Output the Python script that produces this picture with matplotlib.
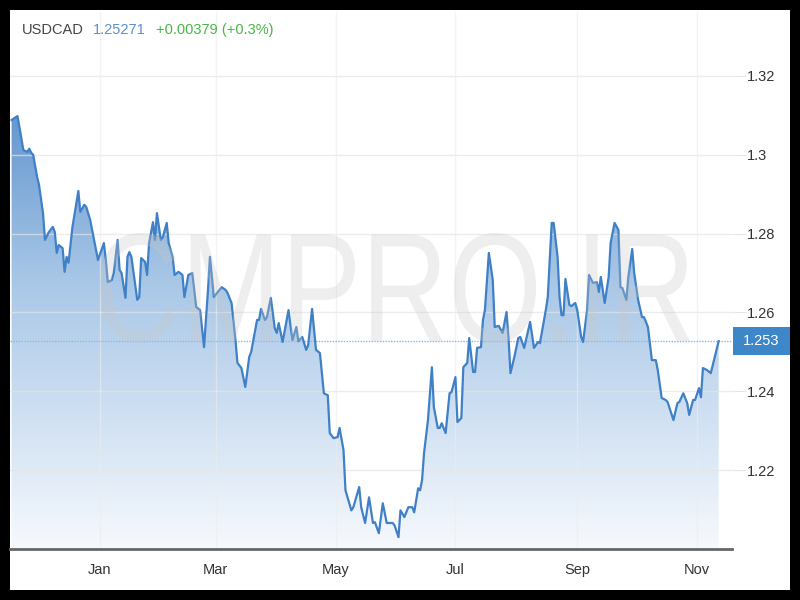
import numpy as np
import pandas as pd
import matplotlib
matplotlib.use("Agg")
import matplotlib.pyplot as plt
import matplotlib.dates as mdates
from matplotlib.colors import LinearSegmentedColormap
from matplotlib.patches import Rectangle, PathPatch
from matplotlib.textpath import TextPath
from matplotlib.font_manager import FontProperties
from matplotlib.transforms import Affine2D, IdentityTransform, blended_transform_factory

# header
pair = "USDCAD"
last_quote = "1.25271"
change_text = "+0.00379 (+0.3%)"
last_rate = 1.25271

# days counted from 2021-01-01, rate
days = [-45, -42, -41, -39, -37, -36, -35, -34, -32, -31, -29, -28, -26, -24, -23,
        -22, -21, -19, -18, -17, -16, -14, -11, -10, -8, -7, -5, -3, -1, 2,
        3, 4, 6, 7, 9, 10, 11, 13, 14, 15, 16, 19, 20, 21, 23,
        24, 25, 27, 28, 29, 31, 32, 34, 35, 37, 38, 40, 42, 43, 45,
        47, 48, 49, 51, 53, 55, 56, 58, 60, 62, 64, 65, 67, 69, 70,
        72, 74, 76, 77, 80, 81, 82, 84, 85, 87, 89, 90, 91, 93, 96,
        98, 100, 101, 103, 105, 106, 108, 110, 112, 114, 116, 117, 119, 121, 122,
        124, 125, 128, 129, 132, 133, 135, 137, 139, 140, 142, 144, 146, 149, 150,
        152, 153, 155, 157, 159, 160, 162, 163, 164, 165, 167, 169, 170, 172, 173,
        174, 176, 178, 179, 181, 182, 184, 185, 187, 188, 190, 191, 192, 194, 195,
        196, 198, 200, 201, 203, 205, 207, 208, 209, 211, 213, 214, 216, 219, 221,
        223, 224, 227, 228, 230, 231, 233, 234, 235, 236, 237, 239, 240, 242, 243,
        245, 246, 248, 249, 251, 253, 254, 255, 257, 259, 260, 261, 262, 264, 265,
        266, 268, 269, 271, 272, 274, 276, 277, 279, 281, 283, 284, 286, 288, 289,
        292, 294, 295, 297, 299, 300, 302, 303, 305, 306, 307, 309, 311, 313, 315]
rates = [1.3088, 1.3098, 1.3070, 1.3012, 1.3007, 1.3015, 1.3005, 1.3000, 1.2944, 1.2923, 1.2852, 1.2784, 1.2804, 1.2817, 1.2804,
         1.2751, 1.2771, 1.2763, 1.2703, 1.2741, 1.2726, 1.2817, 1.2908, 1.2855, 1.2873, 1.2868, 1.2835, 1.2784, 1.2733, 1.2776,
         1.2733, 1.2677, 1.2682, 1.2700, 1.2784, 1.2708, 1.2700, 1.2637, 1.2741, 1.2753, 1.2741, 1.2632, 1.2639, 1.2738, 1.2728,
         1.2695, 1.2776, 1.2829, 1.2784, 1.2852, 1.2784, 1.2791, 1.2827, 1.2776, 1.2741, 1.2695, 1.2703, 1.2695, 1.2639, 1.2695,
         1.2700, 1.2657, 1.2614, 1.2606, 1.2512, 1.2657, 1.2741, 1.2639, 1.2652, 1.2664, 1.2657, 1.2649, 1.2624, 1.2530, 1.2472,
         1.2459, 1.2411, 1.2487, 1.2500, 1.2581, 1.2581, 1.2609, 1.2581, 1.2588, 1.2637, 1.2560, 1.2548, 1.2573, 1.2525, 1.2606,
         1.2530, 1.2563, 1.2527, 1.2538, 1.2505, 1.2517, 1.2609, 1.2505, 1.2497, 1.2395, 1.2390, 1.2294, 1.2281, 1.2284, 1.2307,
         1.2251, 1.2149, 1.2098, 1.2106, 1.2157, 1.2106, 1.2066, 1.2131, 1.2066, 1.2068, 1.2040, 1.2116, 1.2066, 1.2066, 1.2060,
         1.2030, 1.2098, 1.2081, 1.2106, 1.2106, 1.2093, 1.2154, 1.2149, 1.2175, 1.2243, 1.2327, 1.2461, 1.2360, 1.2307, 1.2307,
         1.2319, 1.2294, 1.2395, 1.2398, 1.2436, 1.2322, 1.2332, 1.2461, 1.2472, 1.2535, 1.2449, 1.2449, 1.2510, 1.2512, 1.2581,
         1.2606, 1.2751, 1.2682, 1.2563, 1.2566, 1.2548, 1.2601, 1.2538, 1.2446, 1.2487, 1.2535, 1.2538, 1.2510, 1.2576, 1.2510,
         1.2525, 1.2522, 1.2606, 1.2639, 1.2827, 1.2827, 1.2741, 1.2639, 1.2593, 1.2593, 1.2685, 1.2619, 1.2616, 1.2624, 1.2606,
         1.2538, 1.2525, 1.2606, 1.2695, 1.2675, 1.2677, 1.2652, 1.2690, 1.2624, 1.2690, 1.2776, 1.2802, 1.2827, 1.2809, 1.2664,
         1.2662, 1.2632, 1.2690, 1.2761, 1.2700, 1.2632, 1.2588, 1.2588, 1.2563, 1.2479, 1.2479, 1.2454, 1.2383, 1.2378, 1.2373,
         1.2327, 1.2370, 1.2373, 1.2395, 1.2370, 1.2340, 1.2378, 1.2378, 1.2408, 1.2385, 1.2459, 1.2454, 1.2446, 1.2487, 1.2527]

month_ticks = ["2021-01-01", "2021-03-01", "2021-05-01", "2021-07-01", "2021-09-01", "2021-11-01"]
month_labels = ["Jan", "Mar", "May", "Jul", "Sep", "Nov"]
y_ticks = [1.22, 1.24, 1.26, 1.28, 1.30, 1.32]
y_labels = ["1.22", "1.24", "1.26", "1.28", "1.3", "1.32"]

plt.rcParams['font.family'] = ['Liberation Sans', 'DejaVu Sans']

base = mdates.date2num(pd.Timestamp("2021-01-01"))
x = base + np.array(days, dtype=float)
y = np.array(rates)
xmin, xmax = base - 45.8, base + 321.8
ymin, ymax = 1.20, 1.3362

fig = plt.figure(figsize=(8, 6), dpi=100, facecolor="black")
fig.patches.append(Rectangle((10 / 800, 10 / 600), 780 / 800, 580 / 600,
                             transform=fig.transFigure, facecolor="white", edgecolor="none", zorder=-10))

ax = fig.add_axes([10 / 800, 51 / 600, 722 / 800, 537 / 600])
ax.set_facecolor("none")
ax.set_xlim(xmin, xmax)
ax.set_ylim(ymin, ymax)

# gradient area under the line
cmap = LinearSegmentedColormap.from_list("area", ["#f6f9fd", "#a8c7e7", "#3b79c0"])
grad = np.linspace(0, 1, 256).reshape(-1, 1)
im = ax.imshow(grad, extent=[xmin, xmax, ymin, ymax], aspect="auto", origin="lower",
               cmap=cmap, zorder=1)
area = ax.fill_between(x, y, ymin, facecolor="none", edgecolor="none")
im.set_clip_path(area.get_paths()[0], transform=ax.transData)

ax.plot(x, y, color="#3f80c6", lw=1.6, zorder=4, solid_joinstyle="round")

# grid
for v in y_ticks:
    ax.axhline(v, color="#e4e4e4", lw=1, alpha=0.7, zorder=2)
for m in month_ticks:
    ax.axvline(mdates.date2num(pd.Timestamp(m)), color="#ececec", lw=1, alpha=0.6, zorder=2)

ax.axhline(last_rate, color="#8ab8e6", lw=1, ls=(0, (1, 1)), zorder=3)

# watermark
tp = TextPath((0, 0), "CMPRO.IR", size=100, prop=FontProperties(family="Liberation Sans"))
bb = tp.get_extents()
sx = (690 - 100) / bb.width
sy = (367 - 257) / bb.height
tr = Affine2D().translate(-bb.x0, -bb.y0).scale(sx, sy).translate(100, 257) + IdentityTransform()
fig.patches.append(PathPatch(tp, transform=tr, facecolor="#c8c8c8", edgecolor="none", alpha=0.3, zorder=5))

# axes styling
for s in ["top", "left", "right"]:
    ax.spines[s].set_visible(False)
ax.spines["bottom"].set_color("#666666")
ax.spines["bottom"].set_linewidth(2)

ax.yaxis.tick_right()
ax.set_yticks(y_ticks)
ax.set_yticklabels(y_labels)
ax.tick_params(axis="y", length=10, color="#e4e4e4", pad=1, labelsize=10.5, labelcolor="#333333")
ax.set_xticks([mdates.date2num(pd.Timestamp(m)) for m in month_ticks])
ax.set_xticklabels(month_labels)
ax.tick_params(axis="x", length=0, pad=10, labelsize=10.5, labelcolor="#333333")

# last price tag
btr = blended_transform_factory(ax.transAxes, ax.transData)
ax.add_patch(Rectangle((1.0014, last_rate - 0.0036), 0.079, 0.0072, transform=btr,
                       facecolor="#3d86c8", edgecolor="none", clip_on=False, zorder=6))
ax.text(1.0014 + 0.0395, last_rate, "1.253", transform=btr, color="white",
        fontsize=10.5, ha="center", va="center", zorder=7)

# header
fig.text(22 / 800, 1 - 30 / 600, pair, color="#444444", fontsize=10.5, va="center")
fig.text(93 / 800, 1 - 30 / 600, last_quote, color="#5b8fd0", fontsize=10.5, va="center")
fig.text(156 / 800, 1 - 30 / 600, change_text, color="#49b649", fontsize=10.5, va="center")

fig.savefig("out.png", dpi=100, facecolor="black")
